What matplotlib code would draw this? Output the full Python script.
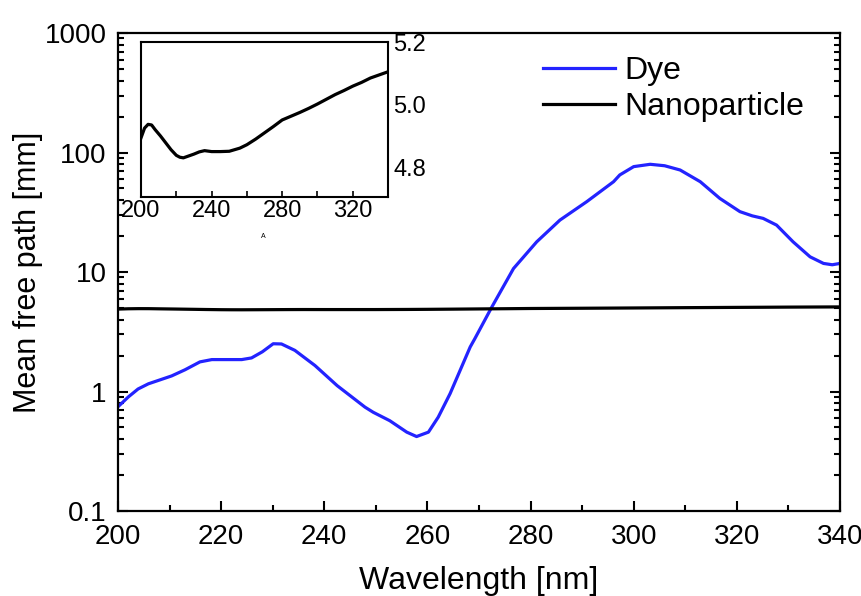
import numpy as np
import matplotlib
matplotlib.use("Agg")
import matplotlib.pyplot as plt
from matplotlib.ticker import FixedLocator, MultipleLocator, LogLocator, FuncFormatter, NullFormatter

plt.rcParams['font.family'] = ['Liberation Sans', 'DejaVu Sans']

# dye mean free path (mm)
dye_wl = [200, 202, 203.9, 205.9, 210.4, 213, 215.9, 218.2, 224, 225.9, 228, 230.1, 231.7,
          234.3, 238.2, 242.5, 247.9, 249.5, 252.7, 256, 257.9, 260.2, 262.1, 264.4, 268.3,
          269.2, 272.5, 276.7, 281.2, 285.7, 290.9, 296.1, 297.3, 300, 303.2, 306, 309,
          312.9, 316.7, 320.6, 323, 325.1, 327.7, 330.9, 334.2, 336.8, 338.5, 340]
dye_mfp = [0.745, 0.9, 1.05, 1.16, 1.35, 1.52, 1.77, 1.85, 1.85, 1.91, 2.15, 2.51, 2.5,
           2.21, 1.65, 1.12, 0.74, 0.67, 0.57, 0.457, 0.42, 0.457, 0.61, 0.96, 2.36,
           2.77, 5.1, 10.7, 17.9, 27.2, 38.8, 57, 64.9, 76.2, 79.7, 77.5, 71.4,
           57, 41.3, 32, 29.5, 28.1, 24.7, 17.9, 13.4, 11.8, 11.5, 11.8]

# nanoparticle mean free path (mm)
np_wl = [200, 202, 204, 206, 208, 211, 214, 217, 220, 222, 224, 227, 230, 233, 236, 240,
         245, 250, 256, 260, 265, 270, 275, 280, 285, 290, 295, 300, 305, 310, 315, 320,
         325, 330, 335, 340]
np_mfp = [4.894, 4.925, 4.937, 4.935, 4.92, 4.9, 4.878, 4.856, 4.838, 4.832, 4.83, 4.836,
          4.842, 4.849, 4.853, 4.85, 4.85, 4.851, 4.861, 4.872, 4.89, 4.91, 4.93, 4.951,
          4.963, 4.975, 4.988, 5.002, 5.017, 5.032, 5.045, 5.059, 5.071, 5.085, 5.095, 5.105]

fig = plt.figure(figsize=(8.61, 5.96), dpi=100)
ax = fig.add_axes([0.137, 0.1426, 0.8386, 0.802])

ax.plot(dye_wl, dye_mfp, color='#2323ff', lw=2.3, label='Dye')
ax.plot(np_wl, np_mfp, color='black', lw=2.3, label='Nanoparticle')

ax.set_yscale('log')
ax.set_xlim(200, 340)
ax.set_ylim(0.1, 1000)
ax.xaxis.set_major_locator(MultipleLocator(20))
ax.xaxis.set_minor_locator(MultipleLocator(10))
ax.yaxis.set_major_locator(LogLocator(base=10))
ax.yaxis.set_minor_locator(LogLocator(base=10, subs=np.arange(2, 10)))
ax.yaxis.set_major_formatter(FuncFormatter(lambda v, p: '%g' % v))
ax.yaxis.set_minor_formatter(NullFormatter())
ax.tick_params(which='both', direction='in', right=True, top=False, width=1.5,
               labelsize=20)
ax.tick_params(axis='x', pad=9)
ax.tick_params(axis='y', pad=8)
ax.tick_params(which='major', length=7)
ax.tick_params(which='minor', length=4)
for s in ax.spines.values():
    s.set_linewidth(1.6)

ax.set_xlabel('Wavelength [nm]', fontsize=23, labelpad=12)
ax.set_ylabel('Mean free path [mm]', fontsize=22, labelpad=1)

leg = ax.legend(loc='upper left', frameon=False, fontsize=23, handlelength=2.25,
                handletextpad=0.3, borderpad=0, borderaxespad=0, labelspacing=0.2,
                bbox_to_anchor=(543 / 861, 1 - 56 / 596), bbox_transform=fig.transFigure)

# inset
ins = fig.add_axes([0.1638, 0.6695, 0.2869, 0.26])
ins.plot(np_wl, np_mfp, color='black', lw=2.3)
ins.set_xlim(200, 340)
ins.set_ylim(4.705, 5.2)
ins.xaxis.set_major_locator(FixedLocator([200, 240, 280, 320]))
ins.xaxis.set_minor_locator(FixedLocator([220, 260, 300, 340]))
ins.yaxis.set_major_locator(FixedLocator([4.8, 5.0, 5.2]))
ins.yaxis.tick_right()
ins.tick_params(which='both', direction='in', length=4, width=1.2, labelsize=17, pad=2)
ins.tick_params(axis='y', length=0, pad=4)
for s in ins.spines.values():
    s.set_linewidth(1.5)
fig.text(263 / 861, 1 - 237 / 596, 'A', fontsize=5, ha='center', va='center')

fig.savefig('out.png', dpi=100)
